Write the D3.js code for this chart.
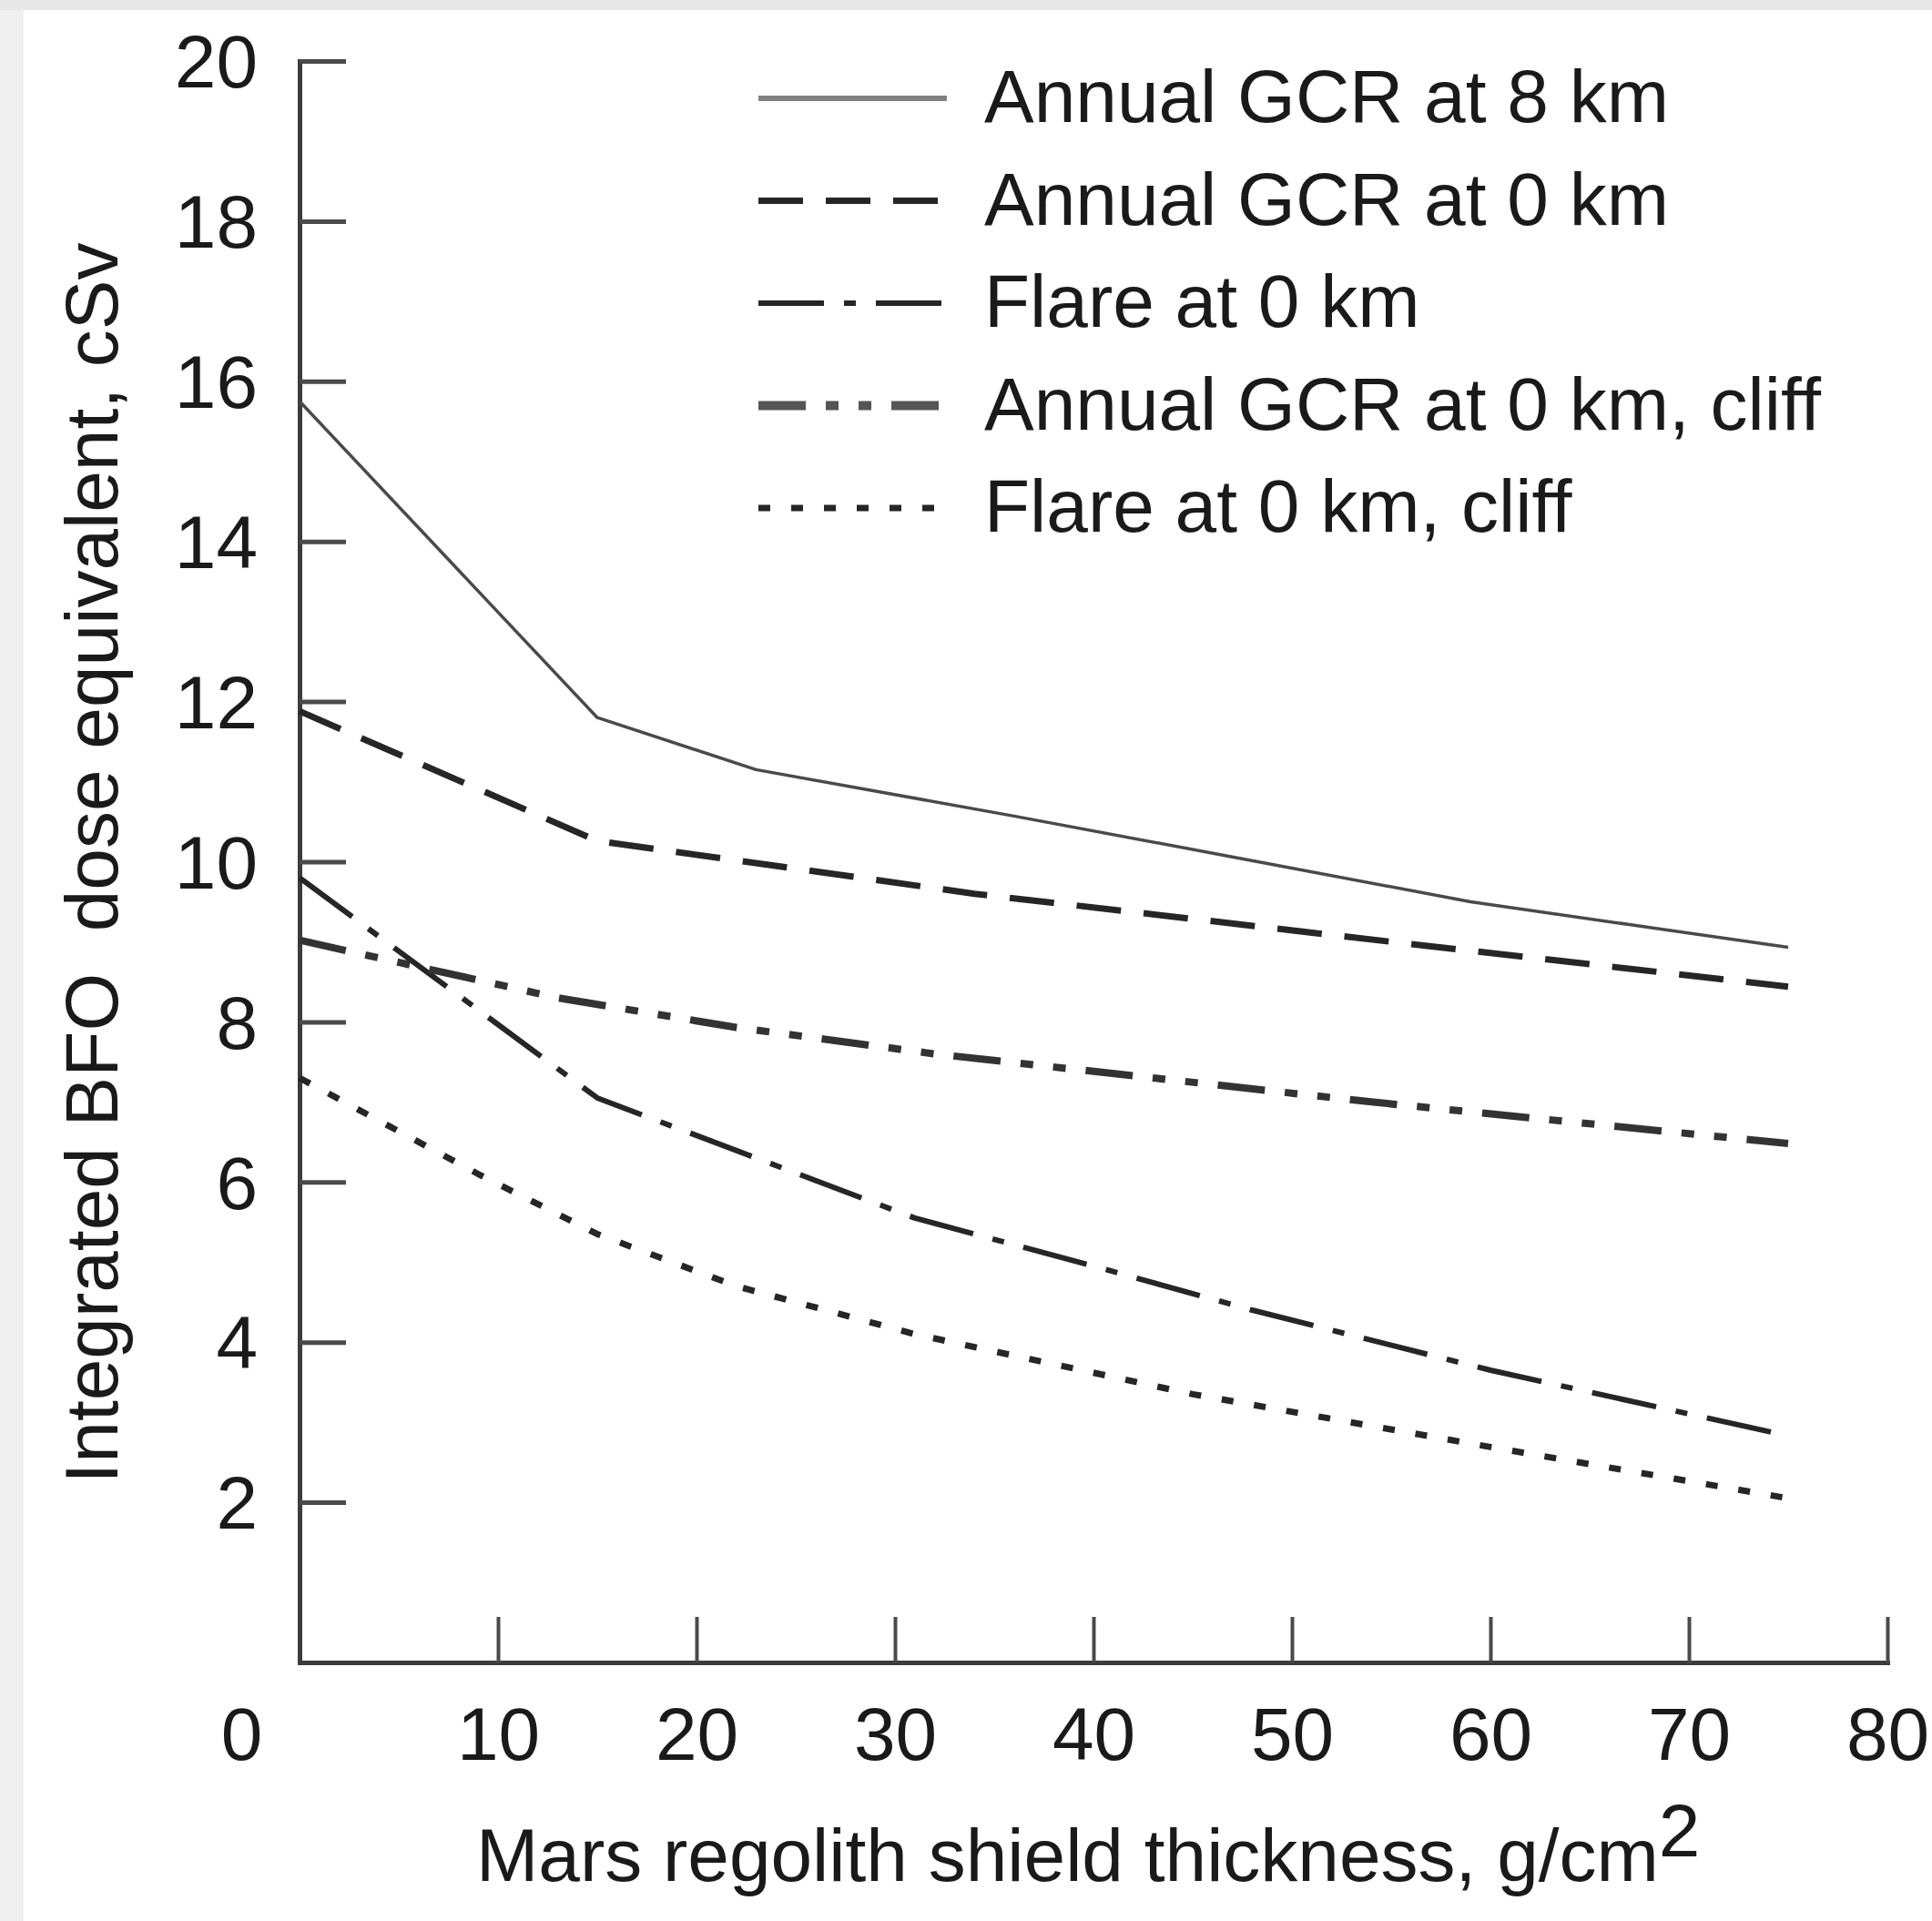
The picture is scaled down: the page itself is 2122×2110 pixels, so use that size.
<!DOCTYPE html>
<html>
<head>
<meta charset="utf-8">
<script src="https://cdn.jsdelivr.net/npm/d3@7"></script>
<style>
body { margin: 0; background: #e6e6e6; }
svg { display: block; }
.axis text, .lbl {
    font-family: "Liberation Sans", Arial, Helvetica, sans-serif;
    font-size: 82px;
    fill: #1a1a1a;
}
</style>
</head>
<body>
<svg id="chart" width="2122" height="2110"></svg>
<script>
// ---- data ----
var seriesNames  = ["Annual GCR at 8 km", "Annual GCR at 0 km", "Flare at 0 km",
                    "Annual GCR at 0 km, cliff", "Flare at 0 km, cliff"];

var gcr8km_x     = [0, 15, 23, 36, 47, 59, 75];
var gcr8km_y     = [15.75, 11.8, 11.15, 10.57, 10.06, 9.5, 8.93];

var gcr0km_x     = [0, 15, 34, 55, 75];
var gcr0km_y     = [11.88, 10.26, 9.6, 9.0, 8.44];

var flare0km_x   = [0, 15, 23, 31, 40, 48, 60, 75];
var flare0km_y   = [9.8, 7.05, 6.3, 5.55, 4.95, 4.4, 3.65, 2.83];

var gcrCliff_x   = [0, 13, 22, 32, 54, 75];
var gcrCliff_y   = [9.02, 8.3, 7.93, 7.6, 7.0, 6.48];

var flareCliff_x = [0, 9, 15, 22, 31, 45, 60, 75];
var flareCliff_y = [7.3, 6.1, 5.35, 4.7, 4.1, 3.35, 2.69, 2.05];

var xTicks = [0, 10, 20, 30, 40, 50, 60, 70, 80];
var yTicks = [2, 4, 6, 8, 10, 12, 14, 16, 18, 20];

var xTitle = "Mars regolith shield thickness, g/cm";
var xTitleSup = "2";
var yTitle = "Integrated BFO  dose equivalent, cSv";

// ---- line looks ----
var v_Styles = [
    {color: "#4a4a4a", width: 3.5, dash: null,                 legColor: "#808080", legWidth: 6},
    {color: "#262626", width: 7,   dash: "49,25",              legColor: "#262626", legWidth: 7},
    {color: "#262626", width: 6,   dash: "72,22,13,22",        legColor: "#262626", legWidth: 6},
    {color: "#333333", width: 8,   dash: "52,22,14,22,14,22",  legColor: "#555555", legWidth: 10},
    {color: "#262626", width: 7,   dash: "13,23",              legColor: "#262626", legWidth: 7}
];

var v_Series = [
    {x: gcr8km_x,     y: gcr8km_y},
    {x: gcr0km_x,     y: gcr0km_y},
    {x: flare0km_x,   y: flare0km_y},
    {x: gcrCliff_x,   y: gcrCliff_y},
    {x: flareCliff_x, y: flareCliff_y}
];

var v_SVG = d3.select("#chart");

// page background: grey band on top/left, white card
v_SVG.append("rect").attr("x", 0).attr("y", 0).attr("width", 2122).attr("height", 2110).attr("fill", "#e7e7e7");
v_SVG.append("rect").attr("x", 0).attr("y", 11).attr("width", 26).attr("height", 2099).attr("fill", "#efefef");
v_SVG.append("rect").attr("x", 26).attr("y", 11).attr("width", 2096).attr("height", 2099).attr("fill", "#ffffff");

var v_X = d3.scaleLinear().domain([0, 80]).range([329, 2073]);
var v_Y = d3.scaleLinear().domain([0, 20]).range([1826, 67]);

// x axis, ticks pointing up
var v_GX = v_SVG.append("g")
    .attr("class", "axis")
    .attr("transform", "translate(0," + v_Y(0) + ")")
    .call(d3.axisBottom(v_X).tickValues(xTicks).tickSize(-50).tickSizeOuter(0).tickPadding(49).tickFormat(d3.format("d")));

v_GX.select(".domain").attr("stroke", "#3c3c3c").attr("stroke-width", 5).attr("stroke-linecap", "square");
v_GX.selectAll(".tick line").attr("stroke", "#4a4a4a").attr("stroke-width", 4);
v_GX.selectAll(".tick").filter(function(d) { return d === 0; })
    .each(function() {
        d3.select(this).select("line").remove();
        d3.select(this).select("text").attr("x", -64);
    });

// y axis, ticks pointing right
var v_GY = v_SVG.append("g")
    .attr("class", "axis")
    .attr("transform", "translate(" + v_X(0) + ",0)")
    .call(d3.axisLeft(v_Y).tickValues(yTicks).tickSize(-51).tickSizeOuter(0).tickPadding(46));

v_GY.select(".domain").attr("stroke", "#3c3c3c").attr("stroke-width", 5).attr("stroke-linecap", "square");
v_GY.selectAll(".tick line").attr("stroke", "#4a4a4a").attr("stroke-width", 5);
v_GY.selectAll(".tick text").attr("dy", "0.35em");

// series lines
var v_Line = d3.line()
    .x(function(d) { return v_X(d[0]); })
    .y(function(d) { return v_Y(d[1]); });

v_Series.forEach(function(s, i) {
    var pts = d3.zip(s.x, s.y);
    var st = v_Styles[i];
    v_SVG.append("path")
        .datum(pts)
        .attr("d", v_Line)
        .attr("fill", "none")
        .attr("stroke", st.color)
        .attr("stroke-width", st.width)
        .attr("stroke-linejoin", "round")
        .attr("stroke-dasharray", st.dash);
});

// legend
var v_Leg = v_SVG.append("g").attr("transform", "translate(833,108)");
seriesNames.forEach(function(name, i) {
    var st = v_Styles[i];
    var row = v_Leg.append("g").attr("transform", "translate(0," + (i * 112.5) + ")");
    row.append("line")
        .attr("x1", 0).attr("x2", 207)
        .attr("y1", 0).attr("y2", 0)
        .attr("stroke", st.legColor)
        .attr("stroke-width", st.legWidth)
        .attr("stroke-dasharray", st.dash);
    row.append("text")
        .attr("class", "lbl")
        .attr("x", 248)
        .attr("y", 26)
        .text(name);
});

// axis titles
var v_XT = v_SVG.append("text")
    .attr("class", "lbl")
    .attr("x", 523)
    .attr("y", 2066);
v_XT.append("tspan").text(xTitle);
v_XT.append("tspan").attr("dy", -27).text(xTitleSup);

v_SVG.append("text")
    .attr("class", "lbl")
    .attr("transform", "translate(129,948) rotate(-90)")
    .attr("text-anchor", "middle")
    .style("white-space", "pre")
    .text(yTitle);
</script>
</body>
</html>
